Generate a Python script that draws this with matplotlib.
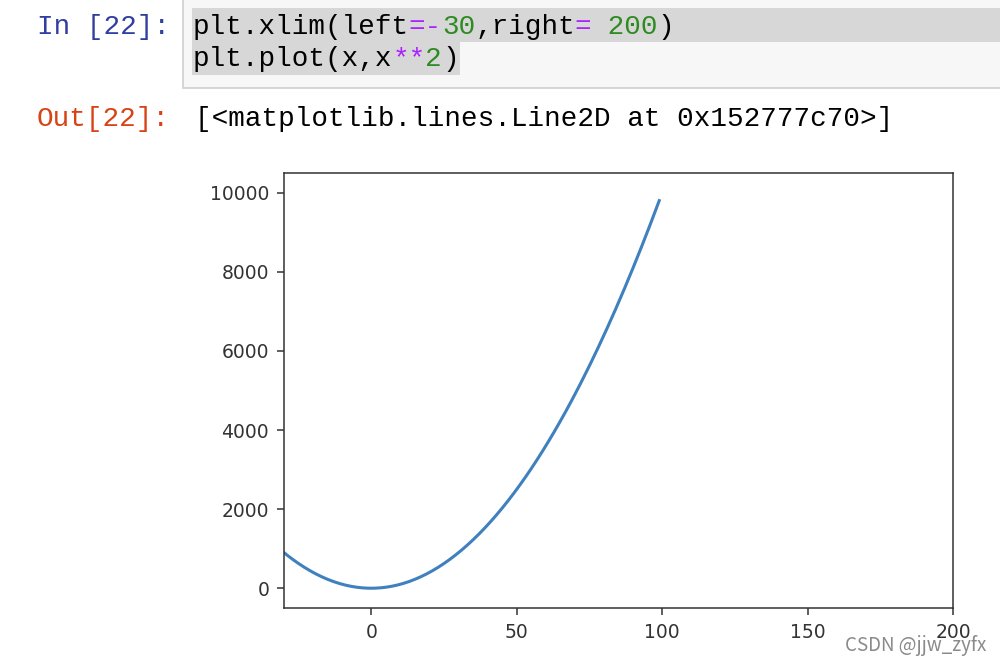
import numpy as np
import matplotlib.pyplot as plt
from matplotlib.patches import Rectangle

# data shown in the notebook cell: plt.plot(x, x**2)
x = np.arange(-100, 100)
y = x ** 2
x_left = -30
x_right = 200
x_ticks = [0, 50, 100, 150, 200]
y_ticks = [0, 2000, 4000, 6000, 8000, 10000]

W, H = 1000, 666
fig = plt.figure(figsize=(W / 100, H / 100), dpi=100)
fig.patch.set_facecolor('white')


def fx(px):
    return px / W


def fy(py):
    return 1 - py / H


# notebook cell box and selection highlight
fig.patches.append(Rectangle((fx(183), fy(88)), fx(830), 100 / H, transform=fig.transFigure,
                             facecolor='#f7f7f7', edgecolor='#cfcfcf', linewidth=1.2))
fig.patches.append(Rectangle((fx(192), fy(42)), fx(820), 34 / H, transform=fig.transFigure,
                             facecolor='#d7d7d7', edgecolor='none'))
fig.patches.append(Rectangle((fx(192), fy(75)), fx(268), 33 / H, transform=fig.transFigure,
                             facecolor='#d7d7d7', edgecolor='none'))

mono = 'Liberation Mono'
cw = 16.6
purple = '#aa22ff'
green = '#2e8b22'


def code_line(segments, x0, base):
    i = 0
    for txt, col in segments:
        fig.text(fx(x0 + i * cw), fy(base), txt, color=col, family=mono,
                 fontsize=19.9, va='baseline', ha='left')
        i += len(txt)


code_line([('In [22]:', '#303f9f')], 37, 34)
code_line([('plt.xlim(left', 'black'), ('=-', purple), ('30', green),
           (',right', 'black'), ('=', purple), (' 200', green), (')', 'black')], 193, 34)
code_line([('plt.plot(x,x', 'black'), ('**', purple), ('2', green), (')', 'black')], 193, 66)
code_line([('Out[22]:', '#d84315')], 37, 126)
code_line([('[<matplotlib.lines.Line2D at 0x152777c70>]', 'black')], 195, 126)

# the plot output
ax = fig.add_axes([fx(284), fy(608), fx(953 - 284), (608 - 173) / H])
ax.plot(x, y, color='#3f80bf', linewidth=2.2)
ax.set_xlim(left=x_left, right=x_right)
ax.set_xticks(x_ticks)
ax.set_yticks(y_ticks)
ax.tick_params(labelsize=13.5, labelcolor='#333333', color='#333333',
               length=4.7, width=1.1, pad=6)
for s in ax.spines.values():
    s.set_color('#333333')
    s.set_linewidth(1.1)

fig.text(fx(845), fy(651), 'CSDN @jjw_zyfx', color='#8a8a8a', fontsize=13.5,
         family=['Noto Sans CJK SC', 'DejaVu Sans'], va='baseline')

fig.savefig('out.png', dpi=100)
